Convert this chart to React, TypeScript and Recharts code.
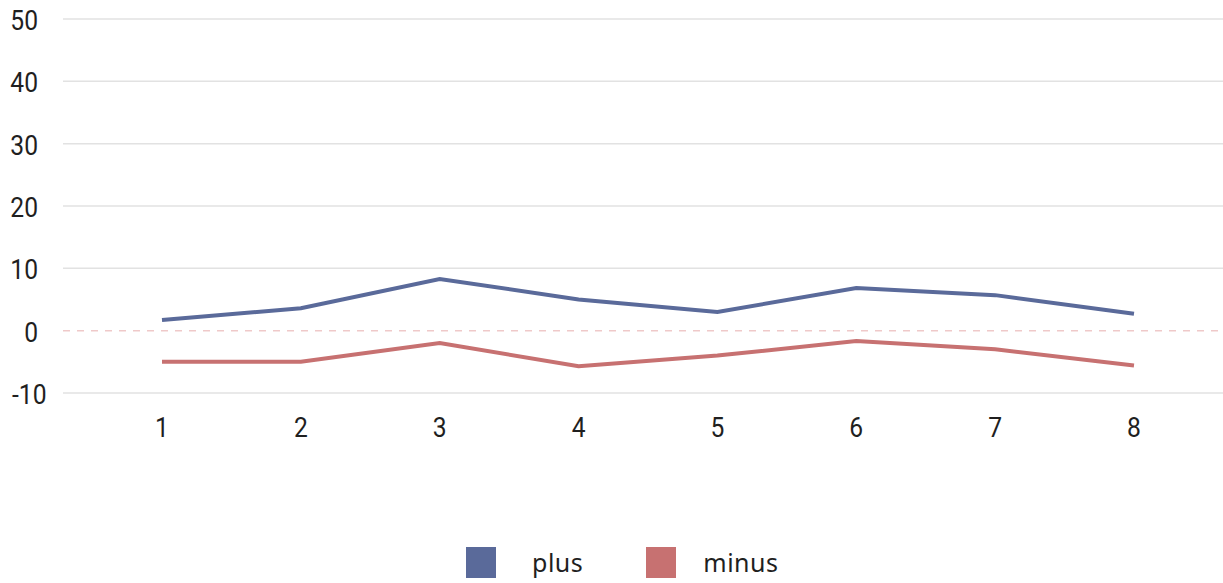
import { LineChart, Line, XAxis, YAxis, ReferenceLine, Legend } from "recharts";

// x categories and the two series
const steps = ["1", "2", "3", "4", "5", "6", "7", "8"];
const plusValues = [1.7, 3.6, 8.3, 5.0, 3.0, 6.85, 5.7, 2.7];
const minusValues = [-5.0, -5.0, -2.0, -5.7, -4.0, -1.65, -3.0, -5.6];
const yTicks = [-10, 0, 10, 20, 30, 40, 50];
const gridLevels = [-10, 10, 20, 30, 40, 50];

const seriesNames = ["plus", "minus"];
const PLUS_COLOR = "#5a6a9a";
const MINUS_COLOR = "#c77171";

const data = steps.map((step, i) => ({
  step,
  plus: plusValues[i],
  minus: minusValues[i],
}));

const AXIS_FONT = "Roboto, sans-serif";

// narrow digits: Roboto squeezed horizontally
const YTick = ({ y, payload }: any) => {
  const neg = payload.value < 0;
  return (
    <text
      transform={`translate(${neg ? 12 : 38},${y + 11}) scale(0.88,1)`}
      textAnchor={neg ? "start" : "end"}
      fontSize={28}
      fontFamily={AXIS_FONT}
      fill="#1f1f1f"
    >
      {payload.value}
    </text>
  );
};

const XTick = ({ x, y, payload }: any) => (
  <text
    transform={`translate(${x},${y + 36}) scale(0.88,1)`}
    textAnchor="middle"
    fontSize={28}
    fontFamily={AXIS_FONT}
    fill="#1f1f1f"
  >
    {payload.value}
  </text>
);

const legendGaps = [36, 27];

const LegendBox = () => (
  <div style={{ display: "flex", alignItems: "center", fontFamily: "'Noto Sans', sans-serif", fontSize: 25, letterSpacing: 0.5, color: "#1f1f1f" }}>
    {seriesNames.map((name, i) => (
      <div key={name} style={{ display: "flex", alignItems: "center", marginRight: i === 0 ? 63 : 0 }}>
        <span style={{ width: 30, height: 31, background: i === 0 ? PLUS_COLOR : MINUS_COLOR, display: "inline-block", marginRight: legendGaps[i] }} />
        <span>{name}</span>
      </div>
    ))}
  </div>
);

export default function App() {
  return (
    <div style={{ position: "absolute", left: 0, top: 0 }}>
      <LineChart width={1223} height={583} data={data} margin={{ top: 19, right: 0, bottom: 126, left: 0 }}>
        {gridLevels.map((v) => (
          <ReferenceLine key={v} y={v} stroke="#e2e2e2" strokeWidth={1.5} />
        ))}
        <ReferenceLine y={0} stroke="#efc9c9" strokeWidth={1.5} strokeDasharray="7 7" />
        <XAxis
          dataKey="step"
          axisLine={false}
          tickLine={false}
          height={30}
          padding={{ left: 99, right: 89 }}
          tick={<XTick />}
        />
        <YAxis
          domain={[-10, 50]}
          ticks={yTicks}
          width={63}
          axisLine={false}
          tickLine={false}
          tick={<YTick />}
        />
        <Line dataKey="plus" stroke={PLUS_COLOR} strokeWidth={4} dot={false} isAnimationActive={false} />
        <Line dataKey="minus" stroke={MINUS_COLOR} strokeWidth={4} dot={false} isAnimationActive={false} />
        <Legend content={<LegendBox />} wrapperStyle={{ left: 466, top: 545, width: "auto" }} />
      </LineChart>
    </div>
  );
}
